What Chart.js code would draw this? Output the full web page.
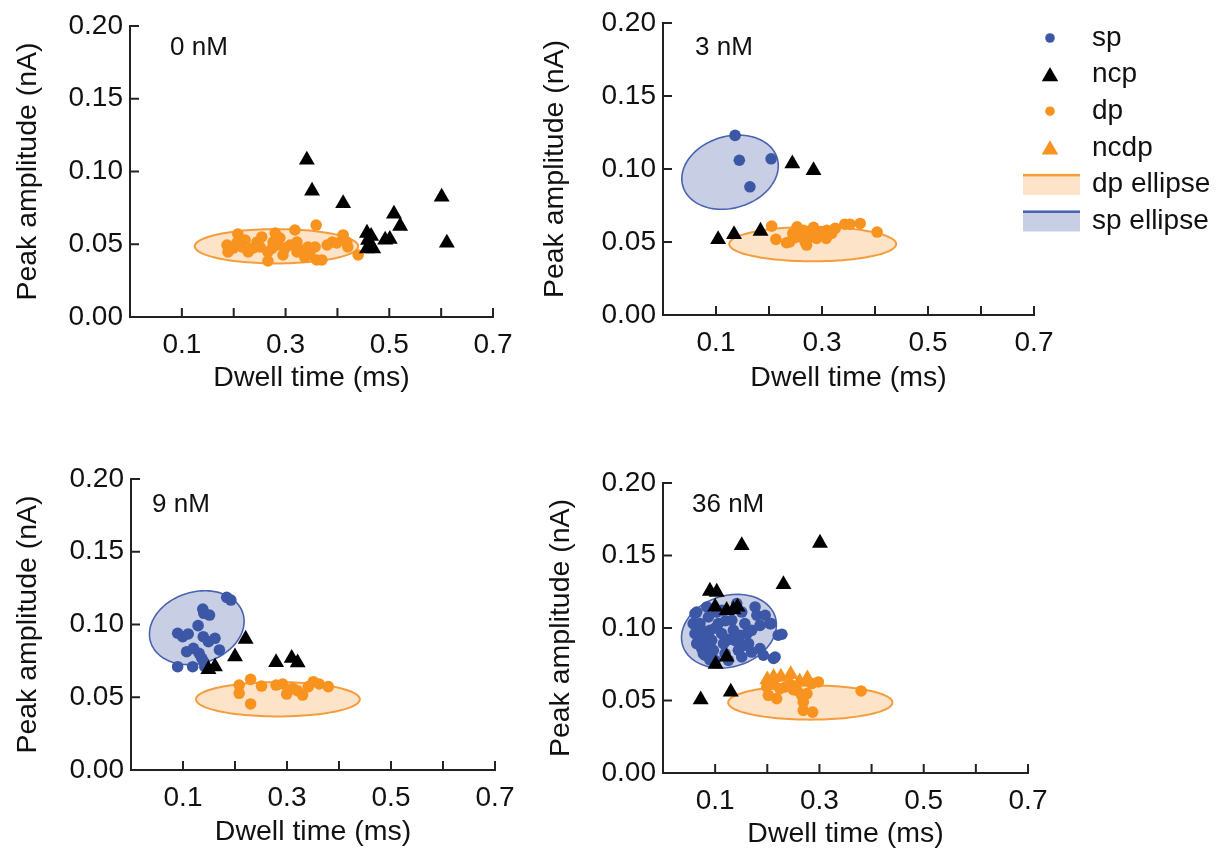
<!DOCTYPE html>
<html><head><meta charset="utf-8">
<script src="https://cdn.jsdelivr.net/npm/chart.js@4.4.0/dist/chart.umd.min.js"></script>
<style>
html,body{margin:0;padding:0;background:#fff;}
#wrap{position:relative;width:1216px;height:848px;overflow:hidden;background:#fff;}
canvas{position:absolute;}
</style></head><body>
<div id="wrap">
<canvas id="c0"></canvas><canvas id="c1"></canvas><canvas id="c2"></canvas><canvas id="c3"></canvas>
</div>
<script>
// ---------- text / ticks ----------
const panelNames = ['0 nM', '3 nM', '9 nM', '36 nM'];
const seriesNames = ['sp', 'ncp', 'dp', 'ncdp'];
const ellipseNames = ['dp ellipse', 'sp ellipse'];
const xTickLabels = ['0.1', '0.3', '0.5', '0.7'];
const xTitle = 'Dwell time (ms)';
const yTitle = 'Peak amplitude (nA)';
const xRange = [0, 0.7, 0.1];
const yRange = [0, 0.2, 0.05];

// ---------- data: [dwell time (ms), peak amplitude (nA)] ----------
const nM0_ncp = [[0.341,0.108],[0.351,0.0866],[0.411,0.078],[0.601,0.0825],[0.509,0.0708],[0.521,0.0625],[0.611,0.0509],[0.457,0.0577],[0.465,0.0555],[0.459,0.0529],[0.469,0.047],[0.457,0.047],[0.492,0.053],[0.501,0.0535]];
const nM0_dp = [[0.359,0.0632],[0.318,0.0598],[0.208,0.057],[0.280,0.0577],[0.411,0.0564],[0.187,0.0495],[0.189,0.0447],[0.206,0.0509],[0.222,0.0529],[0.228,0.0447],[0.245,0.0515],[0.251,0.0481],[0.266,0.0447],[0.266,0.0385],[0.276,0.0515],[0.285,0.0495],[0.295,0.0426],[0.299,0.0474],[0.309,0.0495],[0.322,0.0515],[0.328,0.046],[0.337,0.0412],[0.343,0.0481],[0.357,0.0481],[0.360,0.0392],[0.370,0.0392],[0.380,0.0495],[0.390,0.0515],[0.399,0.0509],[0.418,0.0515],[0.420,0.0481],[0.440,0.0426],[0.199,0.0474],[0.237,0.0474],[0.254,0.055],[0.322,0.0447],[0.347,0.0426],[0.216,0.0481],[0.274,0.0474],[0.289,0.0543]];

const nM3_sp = [[0.136,0.123],[0.144,0.106],[0.204,0.107],[0.164,0.0878]];
const nM3_ncp = [[0.244,0.1037],[0.284,0.099],[0.104,0.0518],[0.134,0.0552],[0.184,0.0575]];
const nM3_dp = [[0.205,0.0609],[0.213,0.0518],[0.233,0.0495],[0.245,0.0559],[0.253,0.0604],[0.262,0.0536],[0.268,0.0501],[0.274,0.0525],[0.281,0.0559],[0.284,0.060],[0.271,0.0479],[0.290,0.0525],[0.299,0.057],[0.308,0.0525],[0.318,0.0559],[0.325,0.0593],[0.343,0.0622],[0.353,0.0622],[0.372,0.0627],[0.404,0.0568],[0.249,0.053],[0.265,0.058],[0.309,0.058],[0.239,0.050]];

const nM9_sp = [[0.184,0.1187],[0.192,0.1168],[0.138,0.1106],[0.140,0.1077],[0.151,0.1065],[0.129,0.0992],[0.0897,0.094],[0.0994,0.0916],[0.110,0.0935],[0.139,0.0916],[0.1615,0.0905],[0.149,0.0882],[0.107,0.0813],[0.120,0.0836],[0.131,0.0802],[0.170,0.0825],[0.136,0.0768],[0.140,0.0744],[0.0897,0.071],[0.1186,0.071],[0.142,0.071]];
const nM9_ncp = [[0.2205,0.090],[0.200,0.0779],[0.149,0.0692],[0.1615,0.071],[0.279,0.074],[0.309,0.0768],[0.3205,0.0737]];
const nM9_dp = [[0.230,0.0623],[0.208,0.0584],[0.208,0.0527],[0.230,0.0454],[0.251,0.0577],[0.279,0.0584],[0.2917,0.0591],[0.2994,0.0522],[0.311,0.0561],[0.320,0.0545],[0.330,0.0515],[0.341,0.0573],[0.3506,0.0607],[0.362,0.0591],[0.3795,0.0573]];

const nM36_sp = [[0.0647,0.111],[0.071,0.103],[0.0743,0.0984],[0.0775,0.0927],[0.0743,0.0858],[0.0806,0.0812],[0.087,0.1076],[0.090,0.0984],[0.0934,0.0915],[0.0966,0.0846],[0.0998,0.0777],[0.106,0.103],[0.1127,0.0961],[0.116,0.0892],[0.119,0.0823],[0.132,0.1053],[0.135,0.0984],[0.138,0.0915],[0.1445,0.0846],[0.151,0.080],[0.1414,0.1168],[0.151,0.111],[0.157,0.103],[0.161,0.0961],[0.164,0.0892],[0.170,0.0834],[0.1766,0.1145],[0.180,0.1088],[0.186,0.1018],[0.196,0.1088],[0.207,0.103],[0.186,0.0858],[0.1925,0.0812],[0.215,0.080],[0.228,0.0957],[0.084,0.1145],[0.1127,0.1122],[0.0614,0.0961],[0.058,0.103],[0.0647,0.0892],[0.1254,0.0777],[0.103,0.111],[0.170,0.0984],[0.148,0.095],[0.205,0.103],[0.221,0.095],[0.212,0.079],[0.0614,0.110],[0.0774,0.0823],[0.09,0.078],[0.125,0.092],[0.1,0.1],[0.12,0.105],[0.155,0.088],[0.083,0.088]];
const nM36_ncp = [[0.151,0.157],[0.301,0.1586],[0.231,0.130],[0.090,0.1255],[0.103,0.1248],[0.100,0.1145],[0.122,0.1122],[0.143,0.1145],[0.135,0.1127],[0.122,0.080],[0.101,0.075],[0.130,0.0559],[0.0723,0.0506]];
const nM36_dp = [[0.199,0.0593],[0.212,0.0612],[0.218,0.0513],[0.202,0.0536],[0.234,0.0593],[0.244,0.0612],[0.257,0.057],[0.266,0.0536],[0.276,0.0548],[0.269,0.049],[0.269,0.0432],[0.287,0.042],[0.298,0.0628],[0.285,0.0617],[0.2245,0.0582],[0.250,0.0575],[0.380,0.0566]];
const nM36_ncdp = [[0.200,0.0644],[0.212,0.066],[0.226,0.0663],[0.245,0.068],[0.262,0.063],[0.277,0.065]];

// ellipse shapes (data units): x = cx + ax*cos t, y = cy + ay*cos(t - phase)
const dpEllipse = {cx:0.2825, cy:0.0486, ax:0.1575, ay:0.0118, phase:90};
const spEllipse = {cx:0.1265, cy:0.0978, ax:0.091, ay:0.0254, phase:80};

// ---------- styles ----------
const FONT = '"Liberation Sans", Arial, Helvetica, sans-serif';
const BLUE = '#3d57a7', BLUE_LINE = '#4a63b1', BLUE_FILL = '#c8cfe4';
const ORANGE = '#f7931e', ORANGE_LINE = '#f59d3c', ORANGE_FILL = '#fde3c7';
const INK = '#111';

const panels = [
  {canvas:[0,0,530,424],    area:[130,26,493,317],   xTitleY:378, yTitleX:28,  label:[40,22], sp:null,    ncp:nM0_ncp,  dp:nM0_dp,  ncdp:null,       spEll:false, legend:false},
  {canvas:[530,0,686,424],  area:[663,23,1034,315],  xTitleY:378, yTitleX:555, label:[32,25], sp:nM3_sp,  ncp:nM3_ncp,  dp:nM3_dp,  ncdp:null,       spEll:true,  legend:true},
  {canvas:[0,424,530,424],  area:[131,479,495,770],  xTitleY:832, yTitleX:28,  label:[21,26], sp:nM9_sp,  ncp:nM9_ncp,  dp:nM9_dp,  ncdp:null,       spEll:true,  legend:false},
  {canvas:[530,424,686,424],area:[663,483,1028,773], xTitleY:834, yTitleX:561, label:[29,22], sp:nM36_sp, ncp:nM36_ncp, dp:nM36_dp, ncdp:nM36_ncdp, spEll:true,  legend:false}
];

function ellipsePath(ctx, xs, ys, e){
  const N = 120, ph = e.phase*Math.PI/180;
  ctx.beginPath();
  for(let k=0;k<=N;k++){
    const t = k/N*2*Math.PI;
    const px = xs.getPixelForValue(e.cx + e.ax*Math.cos(t));
    const py = ys.getPixelForValue(e.cy + e.ay*Math.cos(t-ph));
    if(k===0) ctx.moveTo(px,py); else ctx.lineTo(px,py);
  }
  ctx.closePath();
}

const ellipsePlugin = {
  id:'ellipses',
  beforeDatasetsDraw(chart, args, opts){
    const {ctx, scales:{x,y}} = chart;
    ctx.save();
    ellipsePath(ctx,x,y,dpEllipse);
    ctx.fillStyle = ORANGE_FILL; ctx.fill();
    ctx.lineWidth = 2; ctx.strokeStyle = ORANGE_LINE; ctx.stroke();
    if(opts.sp){
      ellipsePath(ctx,x,y,spEllipse);
      ctx.fillStyle = BLUE_FILL; ctx.fill();
      ctx.lineWidth = 1.6; ctx.strokeStyle = BLUE_LINE; ctx.stroke();
    }
    ctx.restore();
  }
};

const tickPlugin = {
  id:'inTicks',
  afterDraw(chart){
    const {ctx, chartArea:a, scales:{x,y}} = chart;
    ctx.save(); ctx.strokeStyle='#222'; ctx.lineWidth=2; ctx.beginPath();
    x.ticks.forEach(t=>{const px=x.getPixelForValue(t.value); ctx.moveTo(px,a.bottom); ctx.lineTo(px,a.bottom-9);});
    y.ticks.forEach(t=>{const py=y.getPixelForValue(t.value); ctx.moveTo(a.left,py); ctx.lineTo(a.left+9,py);});
    ctx.stroke(); ctx.restore();
  }
};

const labelPlugin = {
  id:'panelLabel',
  afterDraw(chart, args, opts){
    const {ctx, chartArea:a} = chart;
    ctx.save(); ctx.fillStyle=INK; ctx.font='26px '+FONT; ctx.textAlign='left'; ctx.textBaseline='middle';
    ctx.fillText(opts.text, a.left+opts.dx, a.top+opts.dy);
    ctx.restore();
  }
};

function marker(ctx, style, r, color, x, y){
  ctx.fillStyle = color; ctx.beginPath();
  if(style==='circle'){ ctx.arc(x,y,r,0,2*Math.PI); }
  else { const h=Math.PI*2/3; let rad=0; ctx.moveTo(x+Math.sin(rad)*r, y-Math.cos(rad)*r); rad+=h; ctx.lineTo(x+Math.sin(rad)*r, y-Math.cos(rad)*r); rad+=h; ctx.lineTo(x+Math.sin(rad)*r, y-Math.cos(rad)*r); ctx.closePath(); }
  ctx.fill();
}

const legendPlugin = {
  id:'customLegend',
  afterDraw(chart, args, opts){
    if(!opts.show) return;
    const ctx = chart.ctx;
    const sx = 520, tx = 562, y0 = 38, dy = 36.6;
    const items = [
      {t:seriesNames[0], k:'circle', c:BLUE, r:4.8},
      {t:seriesNames[1], k:'triangle', c:'#000', r:9.5},
      {t:seriesNames[2], k:'circle', c:ORANGE, r:4.8},
      {t:seriesNames[3], k:'triangle', c:ORANGE, r:9.5},
      {t:ellipseNames[0], k:'box', c:ORANGE_LINE, f:ORANGE_FILL},
      {t:ellipseNames[1], k:'box', c:BLUE_LINE, f:BLUE_FILL}
    ];
    ctx.save();
    items.forEach((it,i)=>{
      const y = y0 + i*dy;
      if(it.k==='box'){
        ctx.fillStyle = it.f; ctx.fillRect(493, y-10.5, 57, 21);
        ctx.fillStyle = it.c; ctx.fillRect(493, y-10.5, 57, 2.5);
      } else {
        marker(ctx, it.k, it.r, it.c, sx, y + (it.k==='triangle'?2:0));
      }
      ctx.fillStyle = INK; ctx.font = '28px '+FONT; ctx.textAlign='left'; ctx.textBaseline='middle';
      ctx.fillText(it.t, tx, y);
    });
    ctx.restore();
  }
};

const pts = arr => arr.map(([x,y])=>({x,y}));

function makeChart(i){
  const p = panels[i];
  const [cl,ct,cw,ch] = p.canvas;
  const [al,at,ar,ab] = p.area;
  const cv = document.getElementById('c'+i);
  cv.width = cw; cv.height = ch;
  cv.style.left = cl+'px'; cv.style.top = ct+'px';
  cv.style.width = cw+'px'; cv.style.height = ch+'px';
  const yW = al - cl, xH = ct + ch - ab;
  const tSize = 28.5, lh = tSize*1.2;
  const datasets = [];
  if(p.ncp) datasets.push({label:seriesNames[1], data:pts(p.ncp), pointStyle:'triangle', pointRadius:9.2, backgroundColor:'#000', borderWidth:0});
  if(p.ncdp) datasets.push({label:seriesNames[3], data:pts(p.ncdp), pointStyle:'triangle', pointRadius:9.2, backgroundColor:ORANGE, borderWidth:0});
  if(p.sp) datasets.push({label:seriesNames[0], data:pts(p.sp), pointStyle:'circle', pointRadius:5.8, backgroundColor:BLUE, borderWidth:0});
  if(p.dp) datasets.push({label:seriesNames[2], data:pts(p.dp), pointStyle:'circle', pointRadius:5.8, backgroundColor:ORANGE, borderWidth:0});
  const tickFont = {family:FONT, size:28};
  const titleFont = {family:FONT, size:tSize};
  new Chart(cv, {
    type:'scatter',
    data:{datasets},
    options:{
      responsive:false, animation:false, events:[],
      layout:{padding:{left:0, top:at-ct, right:cl+cw-ar, bottom:0}},
      plugins:{
        legend:{display:false}, tooltip:{enabled:false},
        ellipses:{sp:p.spEll},
        panelLabel:{text:panelNames[i], dx:p.label[0], dy:p.label[1]},
        customLegend:{show:p.legend}
      },
      scales:{
        x:{type:'linear', min:xRange[0], max:xRange[1],
           ticks:{stepSize:xRange[2], autoSkip:false, maxRotation:0, minRotation:0, padding:11, color:INK, font:tickFont,
                  callback:(v)=>{const s=(+v).toFixed(1); return xTickLabels.includes(s)?s:'';}},
           grid:{display:false, drawTicks:false},
           border:{display:true, color:'#222', width:2},
           title:{display:true, text:xTitle, color:INK, font:titleFont, padding:{top:0, bottom:(ct+ch)-p.xTitleY-lh/2}},
           afterFit(s){ s.height = xH; s.paddingLeft = 0; s.paddingRight = 0; }
        },
        y:{type:'linear', min:yRange[0], max:yRange[1],
           ticks:{stepSize:yRange[2], padding:7, color:INK, font:tickFont, callback:(v)=>(+v).toFixed(2)},
           grid:{display:false, drawTicks:false},
           border:{display:true, color:'#222', width:2},
           title:{display:true, text:yTitle, color:INK, font:titleFont, padding:{top:p.yTitleX-cl-lh/2, bottom:0}},
           afterFit(s){ s.width = yW; s.paddingTop = 0; s.paddingBottom = 0; }
        }
      }
    },
    plugins:[ellipsePlugin, tickPlugin, labelPlugin, legendPlugin]
  });
}
for(let i=0;i<4;i++) makeChart(i);
</script>
</body></html>
